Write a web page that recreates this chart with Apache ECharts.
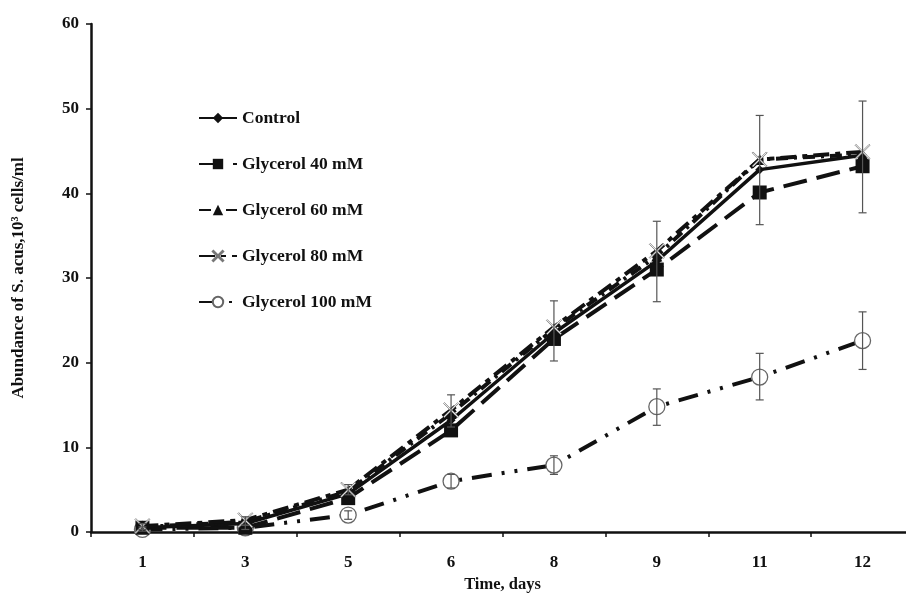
<!DOCTYPE html>
<html>
  <head>
    <meta charset="utf-8" />
    <script src="https://cdn.jsdelivr.net/npm/echarts@6/dist/echarts.min.js"></script>
    <title></title>
    <style>
      body { margin: 0; background: #fff; }
      #main { width: 906px; height: 594px; }
    </style>
  </head>
  <body>
    <div id="main"></div>
  </body>
  <script>
    // days on x axis (evenly spaced categories)
    var days = ['1', '3', '5', '6', '8', '9', '11', '12']
    var yTicks = [0, 10, 20, 30, 40, 50, 60]

    var control = [0.5, 1.0, 4.5, 13.2, 23.5, 32.0, 42.8, 44.5]
    var gly40 = [0.5, 0.5, 4.0, 12.0, 22.8, 31.0, 40.1, 43.2]
    var gly60 = [0.6, 1.2, 4.8, 14.0, 24.0, 32.6, 44.0, 44.6]
    var gly80 = [0.7, 1.4, 5.0, 14.4, 24.2, 33.2, 44.0, 44.9]
    var gly100 = [0.3, 0.5, 2.0, 6.0, 7.9, 14.8, 18.3, 22.6]

    // error bars [low, high]
    var errHigh = [1.0, 1.8, 5.6, 16.2, 27.3, 36.7, 49.2, 50.9]
    var errLow = [0.3, 0.8, 4.4, 12.4, 20.2, 27.2, 36.3, 37.7]
    var err100High = [0.6, 0.8, 2.5, 6.8, 9.0, 16.9, 21.1, 26.0]
    var err100Low = [0.1, 0.3, 1.5, 5.2, 6.8, 12.6, 15.6, 19.2]

    var font = 'Liberation Serif'
    var xMark = 'path://M0,0.6L0.6,0L5,4.4L9.4,0L10,0.6L5.6,5L10,9.4L9.4,10L5,5.6L0.6,10L0,9.4L4.4,5Z'

    function errData(lo, hi) {
      var out = []
      for (var i = 0; i < days.length; i++) out.push([i, lo[i], hi[i]])
      return out
    }

    function errRender(params, api) {
      var x = api.value(0)
      var p1 = api.coord([x, api.value(1)])
      var p2 = api.coord([x, api.value(2)])
      var w = 4
      var st = { stroke: '#555', lineWidth: 1.2 }
      return {
        type: 'group',
        children: [
          { type: 'line', shape: { x1: p1[0], y1: p1[1], x2: p2[0], y2: p2[1] }, style: st },
          { type: 'line', shape: { x1: p1[0] - w, y1: p1[1], x2: p1[0] + w, y2: p1[1] }, style: st },
          { type: 'line', shape: { x1: p2[0] - w, y1: p2[1], x2: p2[0] + w, y2: p2[1] }, style: st }
        ]
      }
    }

    var chart = echarts.init(document.getElementById('main'))
    var option = {
      backgroundColor: '#fff',
      animation: false,
      grid: { left: 91, top: 24, width: 823, bottom: 62, outerBoundsMode: 'none', containLabel: false },
      legend: {
        orient: 'vertical',
        left: 193,
        top: 103,
        itemGap: 26,
        itemWidth: 38,
        itemHeight: 13,
        textStyle: { fontFamily: font, fontWeight: 'bold', fontSize: 17.5, color: '#111', lineHeight: 20 },
        data: ['Control', 'Glycerol 40 mM', 'Glycerol 60 mM', 'Glycerol 80 mM', 'Glycerol 100 mM']
      },
      xAxis: {
        type: 'category',
        data: days,
        boundaryGap: true,
        name: 'Time, days',
        nameLocation: 'middle',
        nameGap: 38,
        nameTextStyle: { fontFamily: font, fontWeight: 'bold', fontSize: 16.5, color: '#111' },
        axisLine: { lineStyle: { color: '#111', width: 2.5 } },
        axisTick: { show: true, length: 5, lineStyle: { color: '#111', width: 1.5 } },
        axisLabel: { fontFamily: font, fontWeight: 'bold', fontSize: 17, color: '#111', margin: 22 }
      },
      yAxis: {
        type: 'value',
        min: yTicks[0],
        max: yTicks[yTicks.length - 1],
        interval: 10,
        name: 'Abundance of S. acus,10³ cells/ml',
        nameLocation: 'middle',
        nameGap: 64,
        nameTextStyle: { fontFamily: font, fontWeight: 'bold', fontSize: 17, color: '#111' },
        axisLine: { show: true, lineStyle: { color: '#111', width: 2.5 } },
        axisTick: { show: true, length: 5, lineStyle: { color: '#111', width: 1.5 } },
        axisLabel: { fontFamily: font, fontWeight: 'bold', fontSize: 17, color: '#111', margin: 12 },
        splitLine: { show: false }
      },
      series: [
        {
          name: 'Glycerol 100 mM',
          type: 'line',
          data: gly100,
          symbol: 'circle',
          symbolSize: 16,
          lineStyle: { color: '#111', width: 4, type: [20, 10, 3, 10, 3, 10] },
          itemStyle: { color: '#fff', borderColor: '#666', borderWidth: 1.3 },
          z: 2
        },
        {
          name: 'Glycerol 40 mM',
          type: 'line',
          data: gly40,
          symbol: 'rect',
          symbolSize: 14,
          lineStyle: { color: '#111', width: 4, type: [24, 10] },
          itemStyle: { color: '#111' },
          z: 3
        },
        {
          name: 'Control',
          type: 'line',
          data: control,
          symbol: 'diamond',
          symbolSize: 9,
          lineStyle: { color: '#111', width: 3.5 },
          itemStyle: { color: '#111' },
          z: 4
        },
        {
          name: 'Glycerol 60 mM',
          type: 'line',
          data: gly60,
          symbol: 'triangle',
          symbolSize: 11,
          lineStyle: { color: '#111', width: 4, type: [12, 6, 3, 6] },
          itemStyle: { color: '#111' },
          z: 5
        },
        {
          name: 'Glycerol 80 mM',
          type: 'line',
          data: gly80,
          symbol: xMark,
          symbolSize: 15,
          lineStyle: { color: '#111', width: 4, type: [16, 6, 5, 6] },
          itemStyle: { color: '#fff', borderColor: '#777', borderWidth: 0.8 },
          z: 6
        },
        {
          type: 'custom',
          renderItem: errRender,
          data: errData(errLow, errHigh),
          encode: { x: 0, y: [1, 2] },
          z: 7
        },
        {
          type: 'custom',
          renderItem: errRender,
          data: errData(err100Low, err100High),
          encode: { x: 0, y: [1, 2] },
          z: 7
        }
      ]
    }
    chart.setOption(option)
  </script>
</html>
